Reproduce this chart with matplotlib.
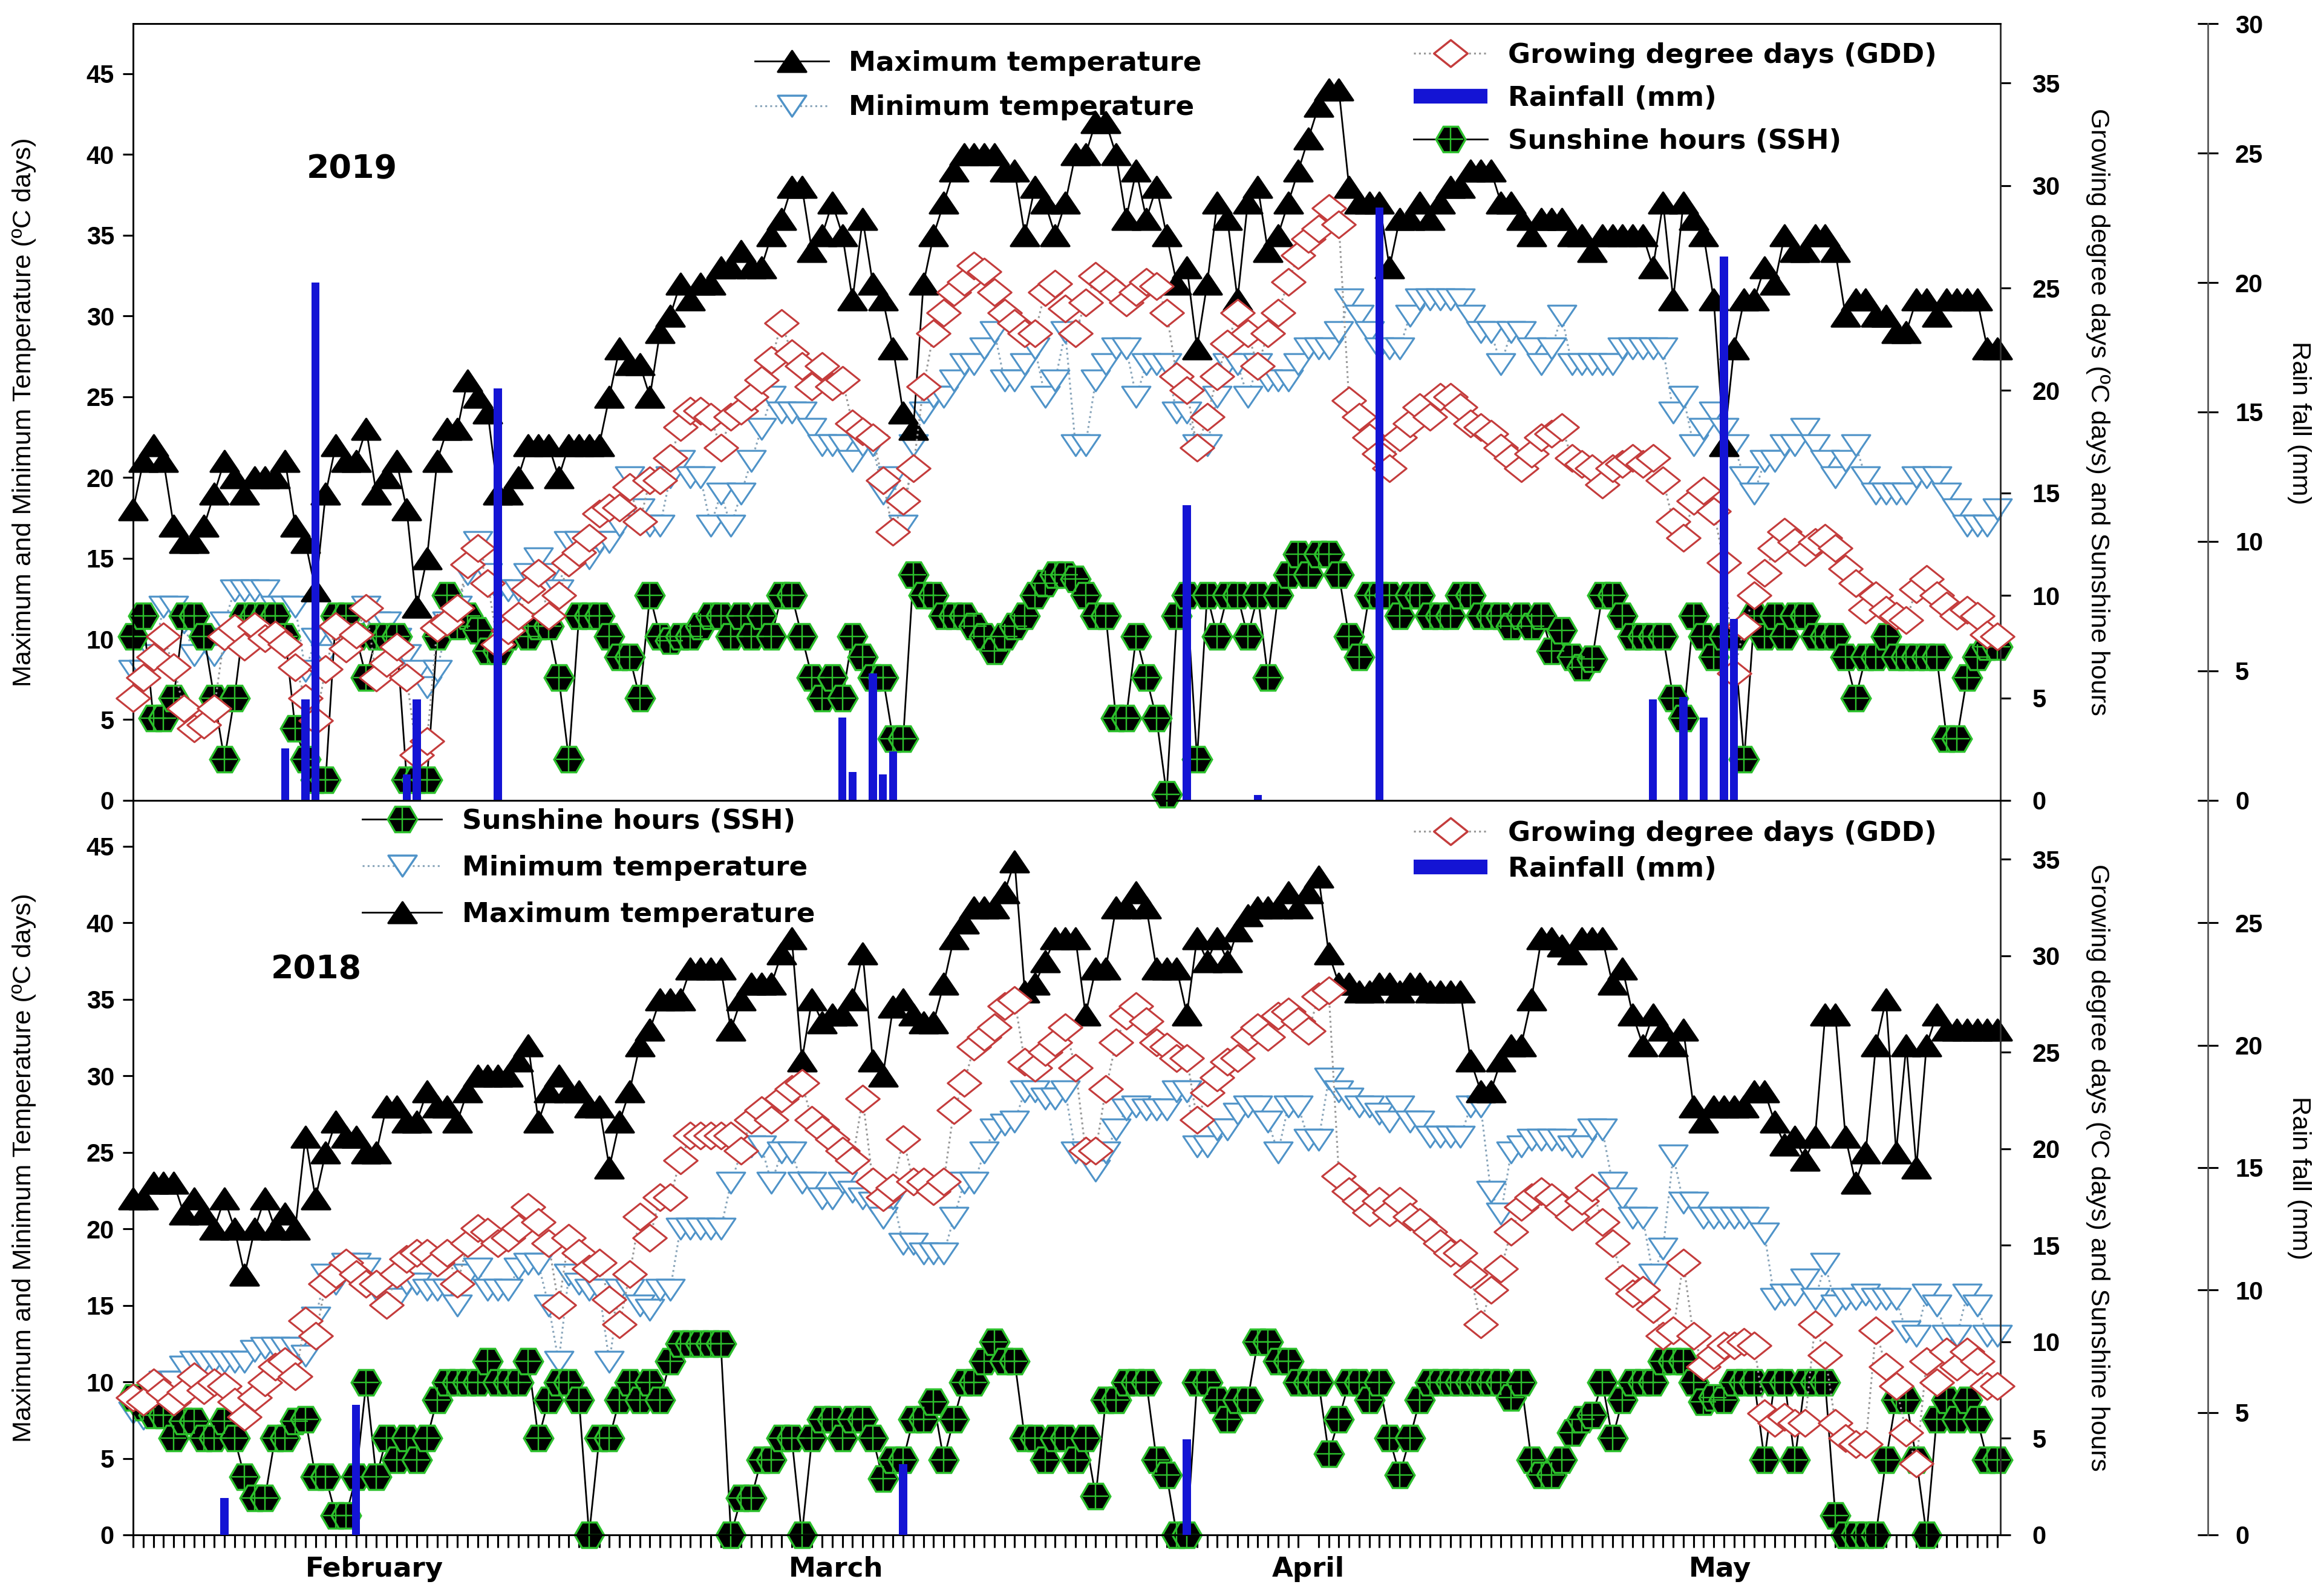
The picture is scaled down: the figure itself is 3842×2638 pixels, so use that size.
import numpy as np
import matplotlib
matplotlib.use("Agg")
import matplotlib.pyplot as plt
from matplotlib.lines import Line2D
from matplotlib.path import Path

plt.rcParams['font.family'] = ['Liberation Sans', 'DejaVu Sans']

# day index along the season, one point per day
days = np.arange(185)
month_pos = [23.8, 69.4, 116.0, 156.6]
month_names = ['February', 'March', 'April', 'May']

# ---------------- 2019 ----------------
max_2019 = [18, 21, 22, 21, 17, 16, 16, 17, 19, 21, 20, 19, 20, 20, 20, 21, 17, 16, 13, 19,
            22, 21, 21, 23, 19, 20, 21, 18, 12, 15, 21, 23, 23, 26, 25, 24, 19, 19, 20, 22,
            22, 22, 20, 22, 22, 22, 22, 25, 28, 27, 27, 25, 29, 30, 32, 31, 32, 32, 33, 33,
            34, 33, 33, 35, 36,
            38, 38, 34, 35, 37, 35, 31, 36, 32, 31, 28, 24, 23, 32, 35, 37, 39, 40, 40, 40,
            40, 39, 39, 35, 38, 37, 35, 37, 40, 40, 42, 42, 40, 36, 39, 36, 38, 35, 32, 33,
            28, 32, 37, 36, 31, 37, 38, 34, 35, 37, 39, 41, 43, 44, 44, 38, 37, 37, 37, 33,
            36, 36, 37, 36, 37, 38, 38, 39, 39, 39, 37, 37, 36, 35, 36, 36,
            36, 35, 35, 34, 35, 35, 35, 35, 35, 33, 37, 31, 37, 36, 35, 31, 22, 28, 31, 31,
            33, 32, 35, 34, 34, 35, 35, 34, 30, 31, 31, 30, 30, 29, 29, 31, 31, 30, 31, 31,
            31, 31, 28, 28]
min_2019 = [8, 8, 9, 12, 12, 11, 9, 10, 9, 11, 13, 13, 13, 13, 12, 12, 12, 8, 10, 9,
            10, 10, 11, 12, 11, 11, 10, 9, 8, 7, 8, 11, 12, 14, 16, 14, 13, 13, 13, 14,
            15, 14, 13, 16, 16, 15, 16, 16, 17, 20, 18, 17, 17, 20, 21, 20, 20, 17, 19,
            17, 19, 21, 23, 25, 24, 24, 24, 23, 22, 22, 22, 21, 22, 22, 19, 20, 17, 22, 24,
            25, 25, 26, 27, 27, 28, 29, 26, 26, 27, 28, 25, 26, 29, 22, 22, 26, 27, 28, 28,
            25, 27, 27, 27, 24, 24, 22, 22, 25, 27, 27, 25, 27, 26, 26, 26, 27, 28, 28, 28,
            29, 31, 30, 29, 28, 28, 28, 30, 31, 31, 31, 31, 31, 30, 29, 29, 27, 29, 29, 28,
            27, 28,
            30, 27, 27, 27, 27, 27, 28, 28, 28, 28, 28, 24, 25, 22, 23, 24, 23, 22, 20, 19,
            21, 21, 22, 22, 23, 22, 21, 20, 21, 22, 20, 19, 19, 19, 19, 20, 20, 20, 19, 18,
            17, 17, 17, 18]
gdd_2019 = [5, 6, 7, 8, 6.5, 4.5, 3.5, 3.7, 4.5, 8, 8.4, 7.5, 8.5, 7.9, 8.1, 7.6, 6.5, 5, 3.9, 6.4,
            8.5, 7.4, 8.1, 9.4, 6, 6.7, 7.5, 6, 2.2, 2.9, 8.4, 8.7, 9.4, 11.5, 12.3, 10.6, 7.6, 8.3, 9, 10.3,
            11.1, 9, 10, 11.6, 12.1, 12.8, 14, 14.3, 14.3, 15.3, 13.6, 15.6, 15.6, 16.7, 18.2, 19, 19, 18.7, 17.2, 18.7,
            19, 19.7, 20.5, 21.5, 23.3,
            21.8, 21.2, 20.2, 21.2, 20.2, 20.5, 18.4, 18, 17.7, 15.6, 13.1, 14.6, 16.2, 20.2, 22.8, 23.8, 24.8, 25.3, 26.1, 25.8,
            24.8, 23.8, 23.3, 22.8, 22.8, 24.8, 25.2, 24, 22.8, 24.3, 25.6, 25.2, 24.8, 24.3, 24.8, 25.3, 25.1, 23.8, 20.7, 20,
            17.2, 18.7, 20.7, 22.3, 23.8, 22.8, 21.2, 22.8, 23.8, 25.3, 26.6, 27.4, 27.9, 28.9, 28.1, 19.5, 18.7, 17.7, 16.9, 16.2,
            17.7, 18.4, 19.2, 18.7, 19.7, 19.7, 19.2, 18.4, 18.2, 17.9, 17.2, 16.7, 16.2, 16.9, 17.7, 17.9, 18.2,
            16.7, 16.4, 16.2, 15.4, 16.2, 16.4, 16.7, 16.4, 16.7, 15.6, 13.6, 12.8, 14.6, 15.1, 14.1, 11.6, 6.2, 8.5, 10, 11.1,
            12.3, 13.1, 12.6, 12.1, 12.6, 12.8, 12.3, 11.3, 10.6, 9.3, 10, 9.3, 9, 8.8, 10.3, 10.8, 10, 9.5, 9, 9.3,
            9, 8.1, 8]
ssh_2019 = [8, 9, 4, 4, 5, 9, 9, 8, 5, 2, 5, 9, 9, 9, 9, 8, 3.5, 2, 1, 1,
            9, 9, 8, 6, 8, 8, 8, 1, 1, 1, 8, 10, 8.5, 9, 8.3, 7.3, 7.3, 8, 8.5, 8,
            8.5, 8.5, 6, 2, 9, 9, 9, 8, 7, 7, 5, 10, 8, 7.8, 8, 8, 8.5, 9, 9, 8,
            9, 8, 9, 8, 10,
            10, 8, 6, 5, 6, 5, 8, 7, 6, 6, 3, 3, 11, 10, 10, 9, 9, 9, 8.5, 8,
            7.3, 8, 8.5, 9, 10, 10.6, 11, 11, 10.8, 10, 9, 9, 4, 4, 8, 6, 4, 0.3, 9, 10,
            2, 10, 8, 10, 10, 8, 10, 6, 10, 11, 12, 11, 12, 12, 11, 8, 7, 10, 10, 10,
            9, 10, 10, 9, 9, 9, 10, 10, 9, 9, 9, 8.5, 9, 8.5, 9, 7.3,
            8.3, 7, 6.5, 6.9, 10, 10, 9, 8, 8, 8, 8, 5, 4, 9, 8, 7, 8, 8, 2, 9,
            8, 9, 8, 9, 9, 8, 8, 8, 7, 5, 7, 7, 8, 7, 7, 7, 7, 7, 3, 3,
            6, 7, 7.5, 7.5]
rain_day_2019 = [15, 17, 18, 27, 28, 36, 70, 71, 73, 74, 75, 104, 111, 123, 150, 153, 155, 157, 158]
rain_2019 = [2.0, 3.9, 20.0, 1.0, 3.9, 15.9, 3.2, 1.1, 4.9, 1.0, 1.9, 11.4, 0.2, 22.9, 3.9, 4.0, 3.2, 21.0, 7.0]

# ---------------- 2018 ----------------
max_2018 = [22, 22, 23, 23, 23, 21, 22, 21, 20, 22, 20, 17, 20, 22, 20, 21, 20, 26, 22, 25,
            27, 26, 26, 25, 25, 28, 28, 27, 27, 29, 28, 28, 27, 29, 30, 30, 30, 30, 31, 32,
            27, 29, 30, 29, 29, 28, 28, 24, 27, 29, 32, 33, 35, 35, 35, 37, 37, 37, 37, 33,
            35, 36, 36, 36, 38,
            39, 31, 35, 33.5, 34, 34, 35, 38, 31, 30, 34.5, 35, 34, 33.5, 33.5, 36, 39, 40, 41, 41,
            41, 42, 44, 35.5, 36, 37.5, 39, 39, 39, 34, 37, 37, 41, 41, 42, 41, 37, 37, 37, 34,
            39, 37.5, 39, 37.5, 39.5, 40.5, 41, 41, 41, 42, 41, 42, 43, 38, 36, 36, 35.5, 35.5, 36, 36,
            35.5, 36, 36, 35.5, 35.5, 35.5, 35.5, 31, 29, 29, 31,
            32, 32, 35, 39, 39, 38.5, 38, 39, 39, 39, 36, 37, 34, 32, 34, 33, 32, 33, 28, 27,
            28, 28, 28, 28, 29, 29, 27, 25.5, 26, 24.5, 26, 34, 34, 26, 23, 25, 32, 35, 25, 32,
            24, 32, 34, 33, 33, 33, 33, 33, 33]
min_2018 = [8, 7.6, 9, 10, 10, 11, 11.3, 11.3, 11.3, 11.3, 11.3, 11.3, 12, 12.2, 12.2, 12.2, 12.2, 11.7, 14.2, 17,
            16.4, 17.7, 17.7, 17.4, 16, 16, 15.4, 16.4, 16.4, 16, 16, 16, 15, 17, 17.4, 16, 16, 16, 17.4, 17.7,
            17.7, 15, 11.3, 17, 16.4, 16, 16, 11.3, 16, 16, 15, 14.7, 16, 16, 20, 20, 20, 20, 20, 23,
            25, 25.4, 25.4, 23, 25,
            25, 23, 23, 22, 22, 23, 22.4, 22, 21.7, 20.7, 22, 19, 19, 18.4, 18.4, 18.4, 20.7, 23, 23, 25,
            26.5, 26.8, 27, 29, 29, 28.5, 28.5, 29, 25, 25, 23.8, 25, 26.5, 27.8, 28, 27.8, 27.8, 27.8, 29, 29,
            25.4, 25.4, 26.5, 26.5, 27.5, 28, 28, 27, 25, 28, 28, 25.8, 25.8, 29.8, 29, 28.5, 28, 28, 27.5, 27,
            28, 27, 27, 26, 26, 26, 26, 28, 28, 22.4, 21,
            25, 25.4, 25.8, 25.8, 25.8, 25.8, 25.4, 25.4, 26.5, 26.5, 23, 22, 20.7, 20.7, 17, 18.7, 24.8, 21.7, 21.7, 20.7,
            20.7, 20.7, 20.7, 20.7, 20.7, 19.7, 15.4, 15.7, 15.7, 16.7, 15.4, 17.7, 15, 15.4, 15.4, 15.7, 15.4, 15.4, 15.4, 13.3,
            13, 15.7, 15, 13, 13, 15.7, 15, 13, 13]
gdd_2018 = [7.1, 6.9, 7.9, 7.4, 6.9, 7.4, 8.2, 7.5, 7.9, 7.7, 6.9, 6.1, 7.1, 7.9, 8.7, 9, 8.2, 11.1, 10.3, 13,
            13.5, 14.1, 13.5, 13, 13, 11.9, 13.5, 14.3, 14.6, 14.6, 14.1, 14.6, 13, 15.1, 15.9, 15.7, 15.1, 15.4, 15.9, 17,
            16.2, 15.1, 11.9, 15.4, 14.6, 13.8, 14.1, 12.2, 10.9, 13.5, 16.5, 15.4, 17.5, 17.5, 19.4, 20.7, 20.7, 20.7, 20.7, 20.7,
            19.9, 21.5, 22, 21.5, 22.6,
            23.1, 23.4, 21.5, 21, 20.5, 19.9, 19.4, 22.6, 18.3, 17.5, 18, 20.5, 18.3, 18.3, 17.8, 18.3, 22, 23.4, 25.3, 25.8,
            26.3, 27.4, 27.7, 24.5, 24.2, 25, 25.5, 26.3, 24.2, 19.9, 19.9, 23.1, 25.5, 26.9, 27.4, 26.6, 25.5, 25.3, 24.7, 24.7,
            21.5, 22.9, 23.7, 24.5, 24.7, 25.8, 26.3, 25.8, 26.9, 27.1, 26.6, 26.1, 27.9, 28.2, 18.6, 17.8, 17.3, 16.7, 17.3, 16.7,
            17.3, 16.5, 16.2, 15.7, 15.1, 14.6, 14.6, 13.5, 10.9, 12.7, 13.8,
            15.7, 17, 17.5, 17.8, 17.5, 17, 16.5, 17.3, 18, 16.2, 15.1, 13.3, 12.5, 12.7, 11.7, 10.3, 10.6, 14.1, 10.3, 8.7,
            9.3, 9.8, 9.8, 10, 9.8, 6.3, 5.8, 6.1, 5.8, 5.8, 10.9, 9.3, 5.8, 5, 4.7, 4.7, 10.6, 8.7, 7.7, 5.3,
            3.7, 9, 7.9, 9.5, 8.7, 9.5, 9, 7.7, 7.7]
ssh_2018 = [7.1, 6.6, 6.2, 6.2, 5, 5.9, 5.9, 5, 5, 5.9, 5, 3, 1.9, 1.9, 5, 5, 5.9, 6, 3, 3,
            1, 1, 3, 7.9, 3, 5, 3.9, 5, 3.9, 5, 7, 7.9, 7.9, 7.9, 7.9, 9, 7.9, 7.9, 7.9, 9,
            5, 7, 7.9, 7.9, 7, 0, 5, 5, 7, 7.9, 7, 7.9, 7, 9, 9.9, 9.9, 9.9, 9.9, 9.9, 0,
            1.9, 1.9, 3.9, 3.9, 5,
            5, 0, 5, 6, 6, 5, 6, 6, 5, 2.9, 3.9, 3.9, 6, 6, 6.9, 3.9, 6, 7.9, 7.9, 9,
            10, 9, 9, 5, 5, 3.9, 5, 5, 3.9, 5, 2, 7, 7, 7.9, 7.9, 7.9, 3.9, 3.1, 0, 0,
            7.9, 7.9, 7, 6, 7, 7, 10, 10, 9, 9, 7.9, 7.9, 7.9, 4.2, 6, 7.9, 7.9, 7, 7.9, 5,
            3.1, 5, 7, 7.9, 7.9, 7.9, 7.9, 7.9, 7.9, 7.9, 7.9,
            7.1, 7.9, 3.9, 3.1, 3.1, 3.9, 5.3, 6, 6.2, 7.9, 5, 7, 7.9, 7.9, 7.9, 9, 9, 9, 7.9, 6.9,
            7.1, 7, 7.9, 7.9, 7.9, 3.9, 7.9, 7.9, 3.9, 7.9, 7.9, 7.9, 1, 0, 0, 0, 0, 3.9, 7, 7,
            3.9, 0, 6, 7, 6, 7, 6, 3.9, 3.9]
rain_day_2018 = [9, 22, 76, 104]
rain_2018 = [1.5, 5.3, 2.9, 3.9]

# marker shapes (flatter than the built-in ones)
tri_up = Path([(0, 0.74), (-1, -0.74), (1, -0.74), (0, 0.74)], closed=True)
tri_down = Path([(0, -0.74), (-1, 0.74), (1, 0.74), (0, -0.74)], closed=True)
diamond = Path([(-1, 0), (0, 0.8), (1, 0), (0, -0.8), (-1, 0)], closed=True)

c_min = '#4f93c8'
c_gdd = '#c43c3c'
c_ssh = '#2cc02c'
c_rain = '#1414d4'
wide_bold = {'family': 'DejaVu Sans', 'weight': 'bold', 'size': 13}

fig = plt.figure(figsize=(3842 / 250, 2638 / 250), dpi=250)
left, width = 0.0573, 0.8035
ax_top = fig.add_axes([left, 0.4985, width, 0.4867])
ax_bot = fig.add_axes([left, 0.0383, width, 0.4602])


def handles():
    h_max = Line2D([], [], color='black', lw=0.8, marker=tri_up, ms=13.5, mfc='black', mec='black')
    h_min = Line2D([], [], color='#8aa6bb', lw=0.9, ls=':', marker=tri_down, ms=13.5, mfc='white', mec=c_min)
    h_gdd = Line2D([], [], color='#999999', lw=0.9, ls=':', marker=diamond, ms=16, mfc='white', mec=c_gdd)
    h_rain = Line2D([], [], color=c_rain, lw=7, solid_capstyle='butt')
    h_ssh = (Line2D([], [], color='black', lw=0.8, marker='H', ms=14, mfc='black', mec=c_ssh),
             Line2D([], [], ls='none', marker='+', ms=12, mec=c_ssh, mew=0.7))
    return h_max, h_min, h_gdd, h_rain, h_ssh


def draw_panel(ax, tmax, tmin, gdd, ssh, rain_days, rain_mm, t_top, g_top, rain_ticks):
    ax.plot(days, tmin, color='#8aa6bb', lw=0.9, ls=':', marker=tri_down, ms=13.5,
            mfc='white', mec=c_min, mew=0.9, clip_on=False, zorder=2)
    ax.plot(days, tmax, color='black', lw=0.8, marker=tri_up, ms=13.5,
            mfc='black', mec='black', clip_on=False, zorder=3)
    ax.set_ylim(0, t_top)
    ax.set_xlim(0, 184.3)
    ax.set_yticks(range(0, 50, 5))
    ax.set_ylabel('Maximum and Minimum Temperature (ºC days)', fontsize=12.5)
    ax.yaxis.set_label_coords(-0.052, 0.5)

    ax2 = ax.twinx()
    ax2.plot(days, ssh, color='black', lw=0.8, marker='H', ms=14, mfc='black',
             mec=c_ssh, mew=1.0, clip_on=False, zorder=2)
    ax2.plot(days, ssh, ls='none', marker='+', ms=12, mec=c_ssh, mew=0.7, clip_on=False, zorder=2)
    ax2.plot(days, gdd, color='#999999', lw=0.9, ls=':', marker=diamond, ms=16,
             mfc='white', mec=c_gdd, mew=0.9, clip_on=False, zorder=3)
    ax2.set_ylim(0, g_top)
    ax2.set_yticks(range(0, 40, 5))
    ax2.set_ylabel('Growing degree days (ºC days) and Sunshine hours', fontsize=12.5,
                   rotation=-90, va='center')
    ax2.yaxis.set_label_coords(1.052, 0.5)

    ax3 = ax.twinx()
    ax3.bar(rain_days, rain_mm, width=0.8, color=c_rain, zorder=4)
    ax3.set_ylim(0, 30)
    ax3.set_yticks(rain_ticks)
    ax3.spines['right'].set_position(('axes', 1.111))
    for s in ['top', 'bottom', 'left']:
        ax3.spines[s].set_visible(False)
    ax3.spines['right'].set_color('#555555')
    ax3.tick_params(axis='y', direction='inout', length=10, width=0.9, pad=8)
    ax3.set_ylabel('Rain fall (mm)', fontsize=12.5, rotation=-90, va='center')
    ax3.yaxis.set_label_coords(1.16, 0.486)

    ax.tick_params(axis='y', direction='out', length=5, width=0.9, pad=4)
    ax2.tick_params(axis='y', direction='out', length=5, width=0.9, pad=10)
    for a in (ax, ax2, ax3):
        for lab in a.get_yticklabels():
            lab.set_fontweight('bold')
            lab.set_fontsize(12)
    for s in ax.spines.values():
        s.set_color('#333333')
    ax2.spines['right'].set_color('#333333')
    return ax2, ax3


# top panel: 2019
t2, t3 = draw_panel(ax_top, max_2019, min_2019, gdd_2019, ssh_2019, rain_day_2019, rain_2019,
                    48.1, 37.9, range(0, 31, 5))
ax_top.set_xticks([])
ax_top.text(0.117, 0.813, '2019', transform=ax_top.transAxes, ha='center', va='center',
            fontsize=15.5, fontweight='bold', family='DejaVu Sans')
h_max, h_min, h_gdd, h_rain, h_ssh = handles()
leg1 = t3.legend([h_max, h_min], ['Maximum temperature', 'Minimum temperature'],
                 loc='upper left', bbox_to_anchor=(0.327, 0.980), frameon=False, prop=wide_bold,
                 handlelength=2.7, handletextpad=0.75, labelspacing=0.68, borderaxespad=0)
t3.add_artist(leg1)
t3.legend([h_gdd, h_rain, h_ssh], ['Growing degree days (GDD)', 'Rainfall (mm)', 'Sunshine hours (SSH)'],
          loc='upper left', bbox_to_anchor=(0.680, 0.990), frameon=False, prop=wide_bold,
          handlelength=2.7, handletextpad=0.75, labelspacing=0.62, borderaxespad=0)

# bottom panel: 2018
b2, b3 = draw_panel(ax_bot, max_2018, min_2018, gdd_2018, ssh_2018, rain_day_2018, rain_2018,
                    48.0, 38.05, range(0, 26, 5))
ax_bot.set_xticks(month_pos)
ax_bot.set_xticklabels(month_names, fontsize=13, fontweight='bold', family='DejaVu Sans')
ax_bot.set_xticks(days, minor=True)
ax_bot.tick_params(axis='x', which='major', length=0, pad=10)
ax_bot.tick_params(axis='x', which='minor', direction='out', length=6, width=0.9)
ax_bot.text(0.098, 0.77, '2018', transform=ax_bot.transAxes, ha='center', va='center',
            fontsize=15.5, fontweight='bold', family='DejaVu Sans')
h_max, h_min, h_gdd, h_rain, h_ssh = handles()
leg3 = b3.legend([h_ssh, h_min, h_max], ['Sunshine hours (SSH)', 'Minimum temperature', 'Maximum temperature'],
                 loc='upper left', bbox_to_anchor=(0.117, 1.004), frameon=False, prop=wide_bold,
                 handlelength=2.9, handletextpad=0.75, labelspacing=0.75, borderaxespad=0)
b3.add_artist(leg3)
b3.legend([h_gdd, h_rain], ['Growing degree days (GDD)', 'Rainfall (mm)'],
          loc='upper left', bbox_to_anchor=(0.680, 0.988), frameon=False, prop=wide_bold,
          handlelength=2.7, handletextpad=0.75, labelspacing=0.36, borderaxespad=0)

fig.savefig('out.png', dpi=250)
